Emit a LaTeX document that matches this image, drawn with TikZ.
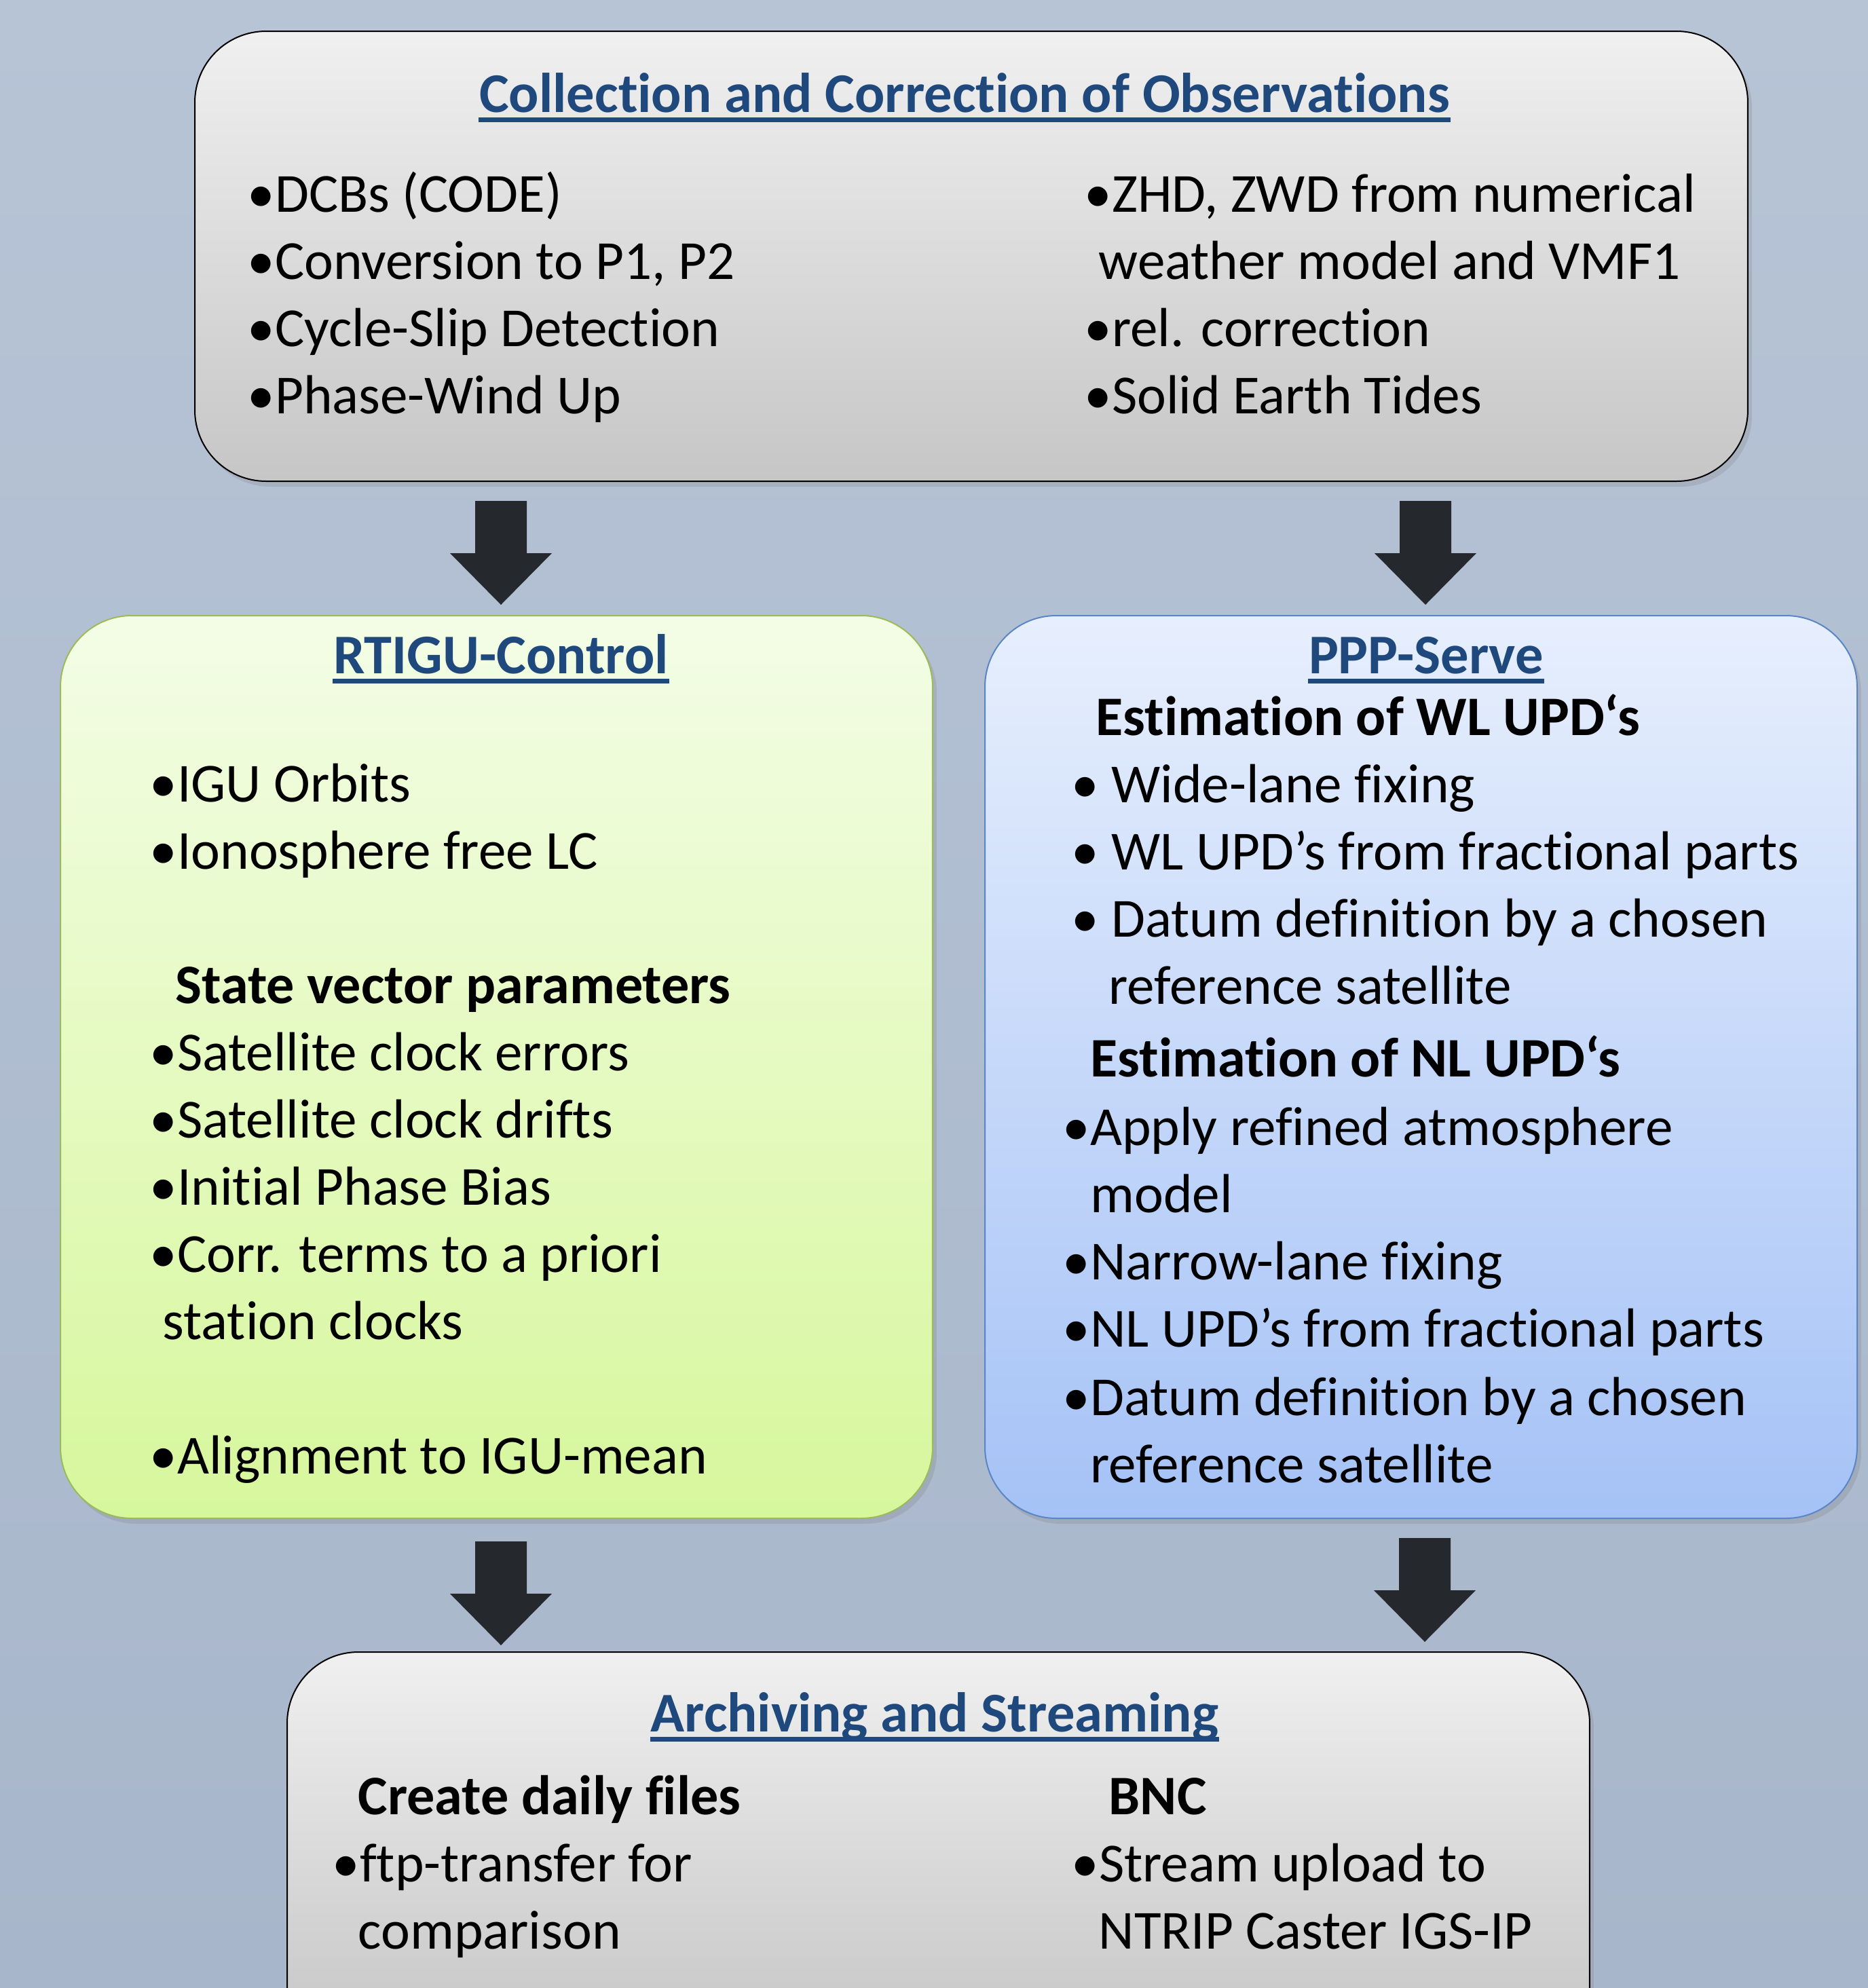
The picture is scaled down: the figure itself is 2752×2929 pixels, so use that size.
\documentclass[tikz,border=0pt]{standalone}
\usepackage{fontspec}
\setmainfont{Carlito}[Ligatures={NoCommon}]
\usetikzlibrary{shadows}
\definecolor{titleblue}{HTML}{1F497D}
\definecolor{arrowdark}{HTML}{25282C}
\definecolor{bgtop}{HTML}{B7C4D6}
\definecolor{bgbot}{HTML}{A8B6CB}
\definecolor{greyTop}{HTML}{F0F0F0}
\definecolor{greyBot}{HTML}{C6C6C6}
\definecolor{greenTop}{HTML}{F3FDE6}
\definecolor{greenBot}{HTML}{D7F79C}
\definecolor{greenLine}{HTML}{9BBB59}
\definecolor{blueTop}{HTML}{E7EFFD}
\definecolor{blueBot}{HTML}{A5C2F6}
\definecolor{blueLine}{HTML}{5B86C5}
\tikzset{
  panel/.style={draw, line width=0.2mm, rounded corners=10.5mm, anchor=north west, inner sep=0pt,
    drop shadow={opacity=0.25, shadow xshift=0.6mm, shadow yshift=-0.8mm}},
  body/.style={anchor=base west, inner sep=0pt, font=\fontsize{23.1}{28}\selectfont},
  head/.style={anchor=base west, inner sep=0pt, font=\fontsize{23.4}{28}\selectfont\bfseries},
  ttl/.style={anchor=base, inner sep=0pt, text=titleblue, font=\fontsize{23.5}{28}\selectfont\bfseries},
  uline/.style={titleblue, line width=0.7mm},
  arrowfill/.style={fill=arrowdark}
}
\begin{document}
\begin{tikzpicture}[x=0.1mm,y=-0.1mm]
\clip (0,0) rectangle (2752,2929);
\shade[top color=bgtop, bottom color=bgbot] (0,0) rectangle (2752,2929);
% panels
\node[panel, top color=greyTop, bottom color=greyBot, minimum width=228.8mm, minimum height=66.3mm] (top) at (286,45) {};
\node[panel, draw=greenLine, top color=greenTop, bottom color=greenBot, minimum width=128.5mm, minimum height=133mm] (rtigu) at (88,906) {};
\node[panel, draw=blueLine, top color=blueTop, bottom color=blueBot, minimum width=128.5mm, minimum height=133mm] (ppp) at (1450,906) {};
\node[panel, top color=greyTop, bottom color=greyBot!95!black, minimum width=191.9mm, minimum height=70mm] (arch) at (422,2433) {};
% arrows
\coordinate (a1) at (738,738);
\coordinate (a2) at (2100,738);
\coordinate (a3) at (738,2271);
\coordinate (a4) at (2099,2266);
\foreach \a in {a1,a2,a3,a4}{
  \fill[arrowfill] (\a) ++(-38,0) -- ++(76,0) -- ++(0,77) -- ++(37,0) -- ++(-75,76) -- ++(-75,-76) -- ++(37,0) -- cycle;
}
% top panel text
\node[ttl] (t1) at (1421,165) {Collection and Correction of Observations};
\draw[uline] ([yshift=-1.1mm]t1.base west) -- ([yshift=-1.1mm]t1.base east);
\node[body] (c1) at (364,312) {•DCBs (CODE)};
\node[body] (c2) at (364,411) {•Conversion to P1, P2};
\node[body] (c3) at (364,510) {•Cycle-Slip Detection};
\node[body] (c4) at (364,609) {•Phase-Wind Up};
\node[body] (c5) at (1597,312) {•ZHD, ZWD from numerical};
\node[body] (c6) at (1618,411) {weather model and VMF1};
\node[body] (c7) at (1597,510) {•rel. correction};
\node[body] (c8) at (1597,609) {•Solid Earth Tides};
% RTIGU text
\node[ttl] (t2) at (738,992) {RTIGU-Control};
\draw[uline] ([yshift=-1.1mm]t2.base west) -- ([yshift=-1.1mm]t2.base east);
\node[body] (r1) at (220,1181) {•IGU Orbits};
\node[body] (r2) at (220,1280) {•Ionosphere free LC};
\node[head] (r3) at (258,1478) {State vector parameters};
\node[body] (r4) at (220,1577) {•Satellite clock errors};
\node[body] (r5) at (220,1676) {•Satellite clock drifts};
\node[body] (r6) at (220,1775) {•Initial Phase Bias};
\node[body] (r7) at (220,1874) {•Corr. terms to a priori};
\node[body] (r8) at (239,1973) {station clocks};
\node[body] (r9) at (220,2171) {•Alignment to IGU-mean};
% PPP text
\node[ttl] (t3) at (2101,992) {PPP-Serve};
\draw[uline] ([yshift=-1.1mm]t3.base west) -- ([yshift=-1.1mm]t3.base east);
\node[head] (p1) at (1614,1083) {Estimation of WL UPD‘s};
\node[body] (p2) at (1578,1182) {• Wide-lane fixing};
\node[body] (p3) at (1578,1281) {• WL UPD’s from fractional parts};
\node[body] (p4) at (1578,1380) {• Datum definition by a chosen};
\node[body] (p5) at (1633,1479) {reference satellite};
\node[head] (p6) at (1606,1586) {Estimation of NL UPD‘s};
\node[body] (p7) at (1565,1687) {•Apply refined atmosphere};
\node[body] (p8) at (1606,1786) {model};
\node[body] (p9) at (1565,1885) {•Narrow-lane fixing};
\node[body] (p10) at (1565,1984) {•NL UPD’s from fractional parts};
\node[body] (p11) at (1565,2085) {•Datum definition by a chosen};
\node[body] (p12) at (1606,2184) {reference satellite};
% Archive text
\node[ttl] (t4) at (1377,2551) {Archiving and Streaming};
\draw[uline] ([yshift=-1.1mm]t4.base west) -- ([yshift=-1.1mm]t4.base east);
\node[head] (b1) at (527,2673) {Create daily files};
\node[head] (b2) at (1633,2673) {BNC};
\node[body] (b3) at (489,2772) {•ftp-transfer for};
\node[body] (b4) at (527,2871) {comparison};
\node[body] (b5) at (1578,2772) {•Stream upload to};
\node[body] (b6) at (1618,2871) {NTRIP Caster IGS-IP};
\end{tikzpicture}
\end{document}
